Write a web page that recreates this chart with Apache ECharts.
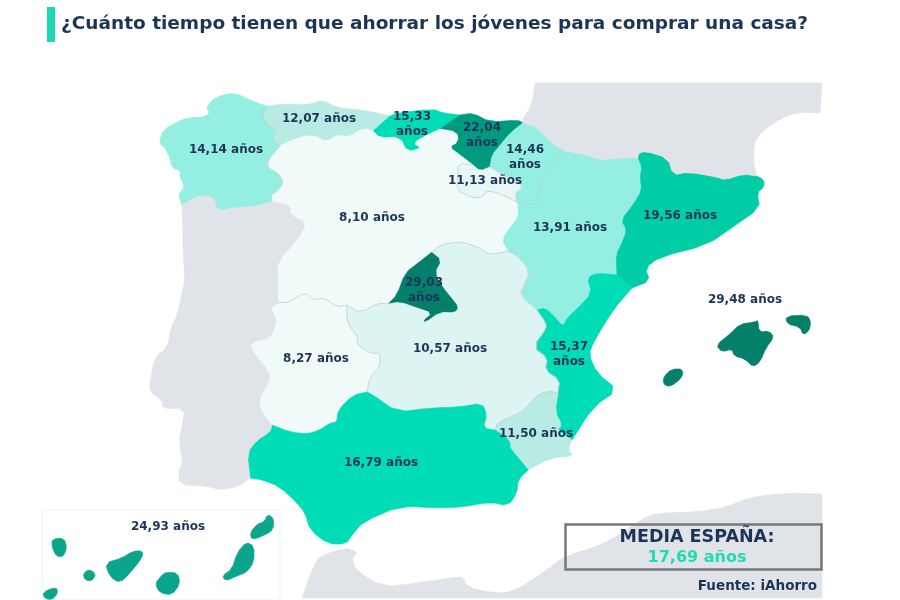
<!DOCTYPE html>
<html>
<head>
<meta charset="utf-8">
<title>Ahorro jóvenes</title>
<script src="https://cdn.jsdelivr.net/npm/echarts@6/dist/echarts.min.js"></script>
<style>html,body{margin:0;padding:0;background:#fff}#main{width:900px;height:600px}</style>
</head>
<body>
<div id="main"></div>
<script>
// datos
var regions = ['Galicia','Asturias','Cantabria','País Vasco','Navarra','La Rioja','Aragón','Cataluña','Castilla y León','Madrid','Extremadura','Castilla-La Mancha','C. Valenciana','Murcia','Andalucía','Baleares','Canarias'];
var years = [14.14,12.07,15.33,22.04,14.46,11.13,13.91,19.56,8.10,29.03,8.27,10.57,15.37,11.50,16.79,29.48,24.93];
var wrapped = ['Cantabria','País Vasco','Navarra','Madrid','C. Valenciana'];	// etiqueta en dos lineas
var media = 17.69;
var title = '¿Cuánto tiempo tienen que ahorrar los jóvenes para comprar una casa?';
var source = 'Fuente: iAhorro';
var stepLimits = [9, 11, 11.3, 13, 15, 18, 21, 23, 27, 99];
var stepColors = ['#f0fbf9','#dcf5f3','#e6f7f5','#b8ebe3','#94efe2','#00dcb5','#00cca6','#009a80','#0aa58a','#047f6a'];

// limites compartidos entre regiones (px de la pagina)
var galAst = [[268,106],[262,117],[268,125],[278,130],[271,138],[280,146]];
var galCyl = [[280,146],[268,160],[268,168],[277,172],[284,182],[277,192],[271,195],[272,202]];
var galPor = [[272,202],[260,205],[247,207],[233,208],[217,211],[215,200],[207,195],[193,198],[182,205]];
var galCoast = [[182,205],[178,195],[185,187],[180,178],[180,170],[172,168],[170,158],[165,148],[159,143],[163,130],[177,122],[187,118],[205,117],[210,112],[206,108],[212,100],[222,95],[235,93],[250,100],[260,104],[268,106]];
var astCoast = [[268,106],[283,104],[307,105],[323,100],[337,108],[363,110],[390,116]];
var astCan = [[390,116],[373,131]];
var astCyl = [[373,131],[363,128],[350,137],[337,135],[327,142],[313,135],[297,138],[280,146]];
var canCoast = [[390,116],[397,113],[433,109],[443,113],[460,115]];
var canPv = [[460,115],[440,129]];
var canCyl = [[373,131],[380,138],[400,137],[407,152],[422,148],[413,143],[427,135],[440,129]];
var pvCoast = [[460,115],[473,113],[490,122],[518,120],[523,123]];
var pvNav = [[523,123],[510,133],[498,148],[492,155],[490,167]];
var pvRio = [[490,167],[480,171],[473,165]];
var pvCyl = [[473,165],[460,155],[449,147],[458,142],[457,132],[440,129]];
var navFra = [[523,123],[537,127],[550,142],[565,151]];
var navAra = [[565,151],[558,158],[550,165],[542,177],[539,187],[539,203],[527,205],[517,202]];
var navRio = [[517,202],[515,193],[523,188],[517,180],[503,175],[490,167]];
var rioCyl = [[473,165],[458,163],[458,177],[457,190],[467,195],[473,198],[483,197],[487,190],[503,195],[517,202]];
var araFra = [[565,151],[587,155],[600,160],[620,158],[638,158]];
var araCat = [[638,158],[642,167],[640,178],[642,190],[633,205],[621,220],[627,230],[622,243],[616,255],[617,275]];
var araVal = [[617,275],[597,273],[587,278],[592,293],[578,308],[567,318],[563,327],[553,315],[545,308],[537,310]];
var araClm = [[537,310],[520,295],[523,287],[530,272],[520,258],[508,251]];
var araCyl = [[508,251],[501,240],[510,227],[518,217],[517,202]];
var catFra = [[638,158],[638,154],[645,151],[668,158],[673,175],[688,172],[717,177],[725,180],[743,174],[757,176]];
var catCoast = [[757,176],[764,180],[764,187],[757,193],[760,208],[733,227],[707,245],[660,257],[645,268],[650,281],[632,288]];
var catVal = [[632,288],[617,275]];
var valCoast = [[632,288],[613,310],[593,343],[589,355],[597,373],[618,390],[593,407],[572,440]];
var valMur = [[572,440],[557,430],[562,425],[555,412],[558,393]];
var valClm = [[558,393],[560,380],[545,370],[548,358],[533,347],[547,328],[545,321],[537,310]];
var murCoast = [[572,440],[568,450],[574,456],[550,458],[528,470]];
var murAnd = [[528,470],[510,450],[510,440],[495,430]];
var murClm = [[495,430],[498,422],[523,412],[535,397],[547,391],[558,393]];
var andClm = [[495,430],[483,428],[487,415],[482,403],[460,407],[430,408],[397,412],[373,395],[367,392]];
var andExt = [[367,392],[353,395],[338,410],[337,422],[330,423],[320,430],[307,434],[290,432],[272,425]];
var andPor = [[272,425],[270,432],[257,440],[247,453],[250,478]];
var andCoast = [[250,478],[263,480],[280,487],[297,503],[305,513],[310,530],[328,544],[346,544],[352,535],[363,522],[400,506],[437,508],[463,507],[490,502],[508,506],[517,493],[518,480],[528,470]];
var extClm = [[347,305],[347,323],[358,337],[357,345],[372,354],[380,352],[380,367],[370,377],[367,392]];
var extCyl = [[278,303],[290,302],[305,292],[313,300],[325,298],[337,307],[347,305]];
var extPor = [[272,425],[262,413],[258,400],[270,380],[268,370],[255,355],[249,343],[270,338],[275,327],[276,317],[270,308],[278,303]];
var clmCyl = [[347,305],[360,313],[378,303],[388,304]];
var madClm = [[388,304],[400,302],[417,308],[432,313],[423,320],[425,323],[440,312],[455,313],[459,307],[452,298],[443,287],[435,273],[442,260],[432,252]];
var madCyl = [[388,304],[397,295],[405,273],[418,263],[432,252]];
var clmCyl2 = [[432,252],[438,247],[448,243],[463,242],[480,248],[490,255],[508,251]];
var cylPor = [[278,303],[278,280],[277,262],[297,240],[307,223],[290,215],[290,205],[272,202]];
var porCoast = [[250,478],[237,487],[220,490],[207,486],[179,485],[179,468],[183,465],[179,440],[182,427],[185,408],[163,409],[162,400],[150,392],[150,380],[155,357],[168,347],[170,330],[178,313],[182,293],[185,280],[183,250],[183,230],[182,205]];
var fraCoast = [[757,176],[753,160],[755,138],[773,123],[795,112],[820,113]];
var fraEast = [[820,113],[822,83]];
var fraTop = [[822,83],[535,83]];
var fraWest = [[535,83],[532,105],[523,118],[523,123]];
var afrCoast = [[302,598],[315,562],[323,555],[345,548],[358,552],[352,557],[355,570],[383,587],[417,583],[457,577],[463,577],[467,587],[493,593],[513,592],[547,570],[563,557],[607,543],[640,520],[657,513],[697,512],[727,507],[747,498],[783,493],[822,494]];
var afrEast = [[822,494],[822,598]];
var afrBottom = [[822,598],[302,598]];

// islas
var mallorca = [[716,345],[730,334],[740,324],[755,322],[758,320],[759,332],[769,331],[774,337],[766,348],[760,362],[753,367],[745,359],[734,356],[732,349],[722,352]];
var menorca = [[786,316],[807,315],[811,322],[809,331],[803,335],[800,327],[787,324]];
var ibiza = [[672,369],[683,369],[682,378],[670,387],[663,384],[664,376]];
var lanzarote = [[268,514],[274,519],[273,530],[265,535],[252,540],[250,533],[257,524],[264,522]];
var fuerteventura = [[246,542],[254,546],[254,562],[247,572],[237,576],[226,581],[222,576],[232,569],[237,553]];
var granCanaria = [[166,572],[178,573],[180,584],[172,595],[160,593],[155,584],[161,576]];
var tenerife = [[143,551],[142,558],[131,572],[120,583],[110,577],[105,563],[122,558],[133,551]];
var gomera = [[89,569],[96,574],[92,581],[85,580],[83,574]];
var laPalma = [[52,539],[64,538],[67,548],[63,557],[56,556],[52,547]];
var hierro = [[43,592],[56,587],[58,593],[52,600],[44,598]];

function rev(a){ return a.slice().reverse(); }
// recorta esquinas, los extremos quedan fijos para que las regiones sigan encajando
function smooth(a){
	var out = [a[0]];
	for(var i=0; i<a.length-1; i++){
		out.push([a[i][0]*0.75 + a[i+1][0]*0.25, a[i][1]*0.75 + a[i+1][1]*0.25]);
		out.push([a[i][0]*0.25 + a[i+1][0]*0.75, a[i][1]*0.25 + a[i+1][1]*0.75]);
	}
	out.push(a[a.length-1]);
	return out;
}
function blob(a){
	var out = [];
	for(var i=0; i<a.length; i++){
		var b = a[(i+1) % a.length];
		out.push([a[i][0]*0.75 + b[0]*0.25, a[i][1]*0.75 + b[1]*0.25]);
		out.push([a[i][0]*0.25 + b[0]*0.75, a[i][1]*0.25 + b[1]*0.75]);
	}
	return out;
}
function ring(){
	var out = [];
	for(var i=0; i<arguments.length; i++){ out = out.concat(smooth(arguments[i])); }
	return out;
}
function flip(line){ return line.map(function(p){ return [p[0], -p[1]]; }); }	// geojson va con y hacia arriba

var shapes = {
	'Galicia': {cp:[226,150], rings:[ring(galCoast,galAst,galCyl,galPor)]},
	'Asturias': {cp:[319,119], rings:[ring(astCoast,astCan,astCyl,rev(galAst))]},
	'Cantabria': {cp:[412,124], rings:[ring(canCoast,canPv,rev(canCyl),rev(astCan))]},
	'País Vasco': {cp:[482,135], rings:[ring(pvCoast,pvNav,pvRio,pvCyl,rev(canPv))]},
	'Navarra': {cp:[525,157], rings:[ring(navFra,navAra,navRio,rev(pvNav))]},
	'La Rioja': {cp:[485,181], rings:[ring(rioCyl,navRio,pvRio)]},
	'Aragón': {cp:[570,228], rings:[ring(araFra,araCat,araVal,araClm,araCyl,rev(navAra))]},
	'Cataluña': {cp:[680,216], rings:[ring(catFra,catCoast,catVal,rev(araCat))]},
	'Castilla y León': {cp:[372,218], rings:[ring(rev(galCyl),rev(astCyl),canCyl,rev(pvCyl),rioCyl,rev(araCyl),rev(clmCyl2),rev(madCyl),rev(clmCyl),rev(extCyl),cylPor)]},
	'Madrid': {cp:[424,290], rings:[ring(madClm,rev(madCyl))]},
	'Extremadura': {cp:[316,359], rings:[ring(extCyl,extClm,andExt,extPor)]},
	'Castilla-La Mancha': {cp:[450,349], rings:[ring(clmCyl,madClm,clmCyl2,rev(araClm),rev(valClm),rev(murClm),andClm,rev(extClm))]},
	'C. Valenciana': {cp:[569,354], rings:[ring(valCoast,valMur,valClm,rev(araVal),rev(catVal))]},
	'Murcia': {cp:[536,434], rings:[ring(rev(valMur),murCoast,murAnd,murClm)]},
	'Andalucía': {cp:[381,463], rings:[ring(andClm,andExt,andPor,andCoast,rev(murAnd))]},
	'Baleares': {cp:[745,300], rings:[blob(mallorca),blob(menorca),blob(ibiza)]},
	'Canarias': {cp:[168,527], rings:[blob(lanzarote),blob(fuerteventura),blob(granCanaria),blob(tenerife),blob(gomera),blob(laPalma),blob(hierro)]},
	'Portugal': {rings:[ring(rev(galPor),rev(cylPor),rev(extPor),andPor,porCoast)]},
	'Francia': {rings:[ring(navFra,araFra,catFra,fraCoast,fraEast,fraTop,fraWest)]},
	'Africa': {rings:[ring(afrCoast,afrEast,afrBottom)]}
};
var seams = [galAst,galCyl,navAra,navRio,rioCyl,clmCyl,clmCyl2,extCyl,extClm,araClm,murClm,valClm];

var features = Object.keys(shapes).map(function(name){
	var s = shapes[name];
	return {type:'Feature', properties:{name:name, cp:s.cp ? [s.cp[0], -s.cp[1]] : undefined},
		geometry:{type:'MultiPolygon', coordinates:s.rings.map(function(r){ return [flip(r.concat([r[0]]))]; })}};
});
features.push({type:'Feature', properties:{name:'limites'}, geometry:{type:'MultiLineString', coordinates:seams.map(function(s){ return flip(smooth(s)); })}});
echarts.registerMap('espana', {type:'FeatureCollection', features:features});

function fmt(v){ return v.toFixed(2).replace('.', ','); }
function stepColor(v){
	for(var i=0; i<stepLimits.length; i++){ if(v < stepLimits[i]) return stepColors[i]; }
	return stepColors[stepColors.length-1];
}

var seriesData = regions.map(function(name, i){
	var c = stepColor(years[i]);
	return {name:name, value:years[i], itemStyle:{areaColor:c, borderColor:c, borderWidth:0.6}};
});
seriesData.push({name:'limites', itemStyle:{borderColor:'#c3cdcf', borderWidth:0.8}});

var FONT = 'DejaVu Sans';
var NAVY = '#1c3557';
var chart = echarts.init(document.getElementById('main'), null, {renderer:'canvas'});
chart.setOption({
	backgroundColor:'#fff',
	animation:false,
	title:{text:title, left:56, top:10, textStyle:{fontFamily:FONT, fontSize:18.5, fontWeight:700, color:NAVY}},
	series:[{
		type:'map', map:'espana', roam:false, silent:true, aspectScale:1,
		left:0, top:0, width:900, height:600,
		boundingCoords:[[0,0],[900,-600]],
		itemStyle:{areaColor:'#e0e3e7', borderColor:'#e0e3e7', borderWidth:0.6},
		label:{show:true, fontFamily:FONT, fontSize:12, fontWeight:700, color:NAVY, lineHeight:15,
			formatter:function(p){
				if(!(p.value === p.value) || regions.indexOf(p.name) < 0) return '';
				return fmt(p.value) + (wrapped.indexOf(p.name) >= 0 ? '\n' : ' ') + 'años';
			}},
		data:seriesData
	}],
	graphic:[
		{type:'rect', z:10, shape:{x:47, y:7, width:8, height:35}, style:{fill:'#1dd8b4'}},
		{type:'rect', z:-1, shape:{x:42, y:510, width:238, height:90}, style:{fill:'#fff', stroke:'#eef1f2', lineWidth:1}},
		{type:'rect', z:10, shape:{x:565.5, y:524.5, width:256, height:45}, style:{fill:null, stroke:'#75787b', lineWidth:2.5}},
		{type:'text', z:10, x:697, y:537, style:{text:'MEDIA ESPAÑA:', fontFamily:FONT, fontSize:17.5, fontWeight:700, fill:NAVY, align:'center', verticalAlign:'middle'}},
		{type:'text', z:10, x:697, y:558, style:{text:fmt(media) + ' años', fontFamily:FONT, fontSize:16, fontWeight:700, fill:'#1fdcb7', align:'center', verticalAlign:'middle'}},
		{type:'text', z:10, x:817, y:586, style:{text:source, fontFamily:FONT, fontSize:13.5, fontWeight:700, fill:NAVY, align:'right', verticalAlign:'middle'}}
	]
});
</script>
</body>
</html>
